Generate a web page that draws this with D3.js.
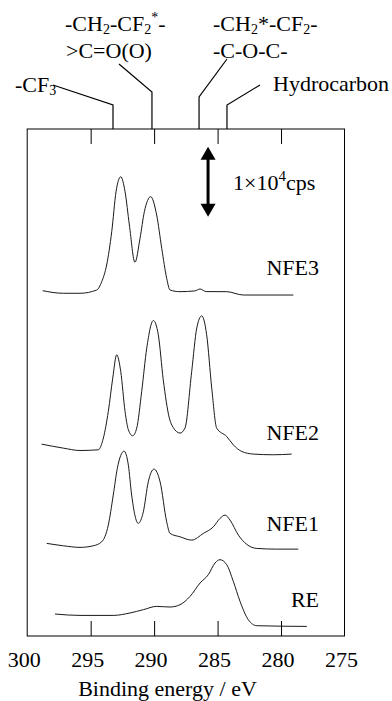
<!DOCTYPE html>
<html>
<head>
<meta charset="utf-8">
<script src="https://cdn.jsdelivr.net/npm/d3@7"></script>
<style>
  html, body { margin: 0; padding: 0; background: #fff; }
  svg { display: block; }
</style>
</head>
<body>
<svg id="chart" width="392" height="701"></svg>
<script>
// ---- Data (binding energy in eV, intensity in 10^3 cps above each trace baseline) ----
const energyTicks = [300, 295, 290, 285, 280, 275];
const seriesNames = ["NFE3", "NFE2", "NFE1", "RE"];
const seriesOffsets = [49.0, 26.6, 12.7, 2.9];   // vertical stacking offsets (10^3 cps)

const nfe3Energy = [298.78, 297.16, 295.84, 294.52, 294.13, 293.74, 293.34, 293.0, 292.63, 292.29, 291.95, 291.51, 291.11, 290.77, 290.27, 289.8, 289.4, 289.01, 288.75, 287.96, 286.8, 286.38, 285.9, 284.28, 282.97, 281.65, 279.03];
const nfe3Counts = [0.33, -0.04, -0.04, 0.43, 1.61, 4.0, 8.76, 14.47, 16.61, 14.47, 9.71, 4.39, 7.81, 11.61, 13.76, 11.14, 6.39, 2.1, 0.43, 0.19, 0.3, 0.57, 0.2, 0.19, -0.29, -0.29, -0.29];

const nfe2Energy = [298.86, 297.16, 295.84, 294.4, 294.0, 293.61, 293.26, 292.95, 292.63, 292.29, 292.03, 291.69, 291.37, 290.98, 290.58, 290.06, 289.67, 289.28, 288.8, 288.5, 287.96, 287.57, 287.04, 286.64, 286.25, 285.86, 285.46, 285.07, 284.28, 283.76, 283.1, 282.18, 280.61, 279.16];
const nfe2Counts = [0.81, 0.24, -0.1, 0.0, 1.67, 5.47, 10.24, 13.57, 11.19, 5.47, 2.86, 2.0, 3.1, 8.33, 14.53, 18.47, 16.43, 10.0, 4.53, 3.2, 2.39, 3.1, 11.19, 17.39, 19.14, 16.43, 8.81, 3.1, 1.9, 0.71, -0.24, -0.61, -0.71, -0.61];

const nfe1Energy = [298.46, 297.16, 295.84, 294.79, 294.13, 293.61, 293.22, 292.9, 292.37, 292.03, 291.77, 291.25, 290.85, 290.46, 290.01, 289.53, 289.01, 288.75, 287.96, 287.04, 286.12, 285.33, 284.81, 284.41, 284.02, 283.36, 282.7, 281.91, 280.34, 278.64];
const nfe1Counts = [0.53, 0.19, -0.04, 0.19, 0.76, 3.14, 7.43, 11.24, 13.71, 11.71, 7.43, 3.39, 5.04, 9.33, 11.14, 9.33, 3.61, 1.96, 1.47, 1.0, 1.96, 2.9, 4.1, 4.57, 3.86, 1.71, 0.39, -0.19, -0.29, -0.29];

const reEnergy = [297.81, 295.84, 293.22, 291.9, 290.85, 289.8, 288.75, 287.96, 287.17, 286.38, 285.73, 285.2, 284.81, 284.28, 283.76, 283.23, 282.58, 281.91, 277.97];
const reCounts = [0.24, 0.04, 0.04, 0.39, 0.86, 1.33, 1.24, 1.57, 2.76, 4.67, 5.86, 7.53, 8.0, 7.29, 4.9, 2.04, -0.57, -1.43, -1.53];

// Peak assignments (energy where leader line meets the frame)
const peakLabels = ["-CF3", "-CH2-CF2*- / >C=O(O)", "-CH2*-CF2- / -C-O-C-", "Hydrocarbon"];
const peakEnergies = [293.24, 290.17, 286.46, 284.26];

// Scale bar: 1x10^4 cps = 10 (10^3 cps)
const scaleBarValue = 10;
const scaleBarTop = 69.9;
const scaleBarEnergy = 285.75;

// ---- Layout ----
const FONT = "'Liberation Serif', 'Times New Roman', Times, 'DejaVu Serif', serif";
const svg = d3.select("#chart").attr("font-family", FONT);
const mLeft = 27.2, mRight = 344.5, mTop = 129, mBottom = 636;

const x = d3.scaleLinear().domain([300, 275]).range([mLeft, mRight]);
const y = d3.scaleLinear().domain([0, (mBottom - mTop) / 7]).range([mBottom, mTop]);

// Frame
svg.append("rect")
  .attr("x", mLeft).attr("y", mTop)
  .attr("width", mRight - mLeft).attr("height", mBottom - mTop)
  .attr("fill", "none").attr("stroke", "#000").attr("stroke-width", 1);

// Inward ticks on bottom and top
const innerTicks = energyTicks.filter(d => d !== 300 && d !== 275);
const bottomAxis = d3.axisTop(x).tickValues(innerTicks).tickSize(15).tickFormat("");
svg.append("g").attr("transform", `translate(0,${mBottom})`).call(bottomAxis)
  .call(g => g.select(".domain").remove())
  .call(g => g.selectAll("line").attr("stroke", "#000"));
const topAxis = d3.axisBottom(x).tickValues(innerTicks).tickSize(15).tickFormat("");
svg.append("g").attr("transform", `translate(0,${mTop})`).call(topAxis)
  .call(g => g.select(".domain").remove())
  .call(g => g.selectAll("line").attr("stroke", "#000"));

svg.append("g").selectAll("text").data(energyTicks).join("text")
  .attr("x", d => x(d) - 3).attr("y", mBottom + 31)
  .attr("text-anchor", "middle").attr("font-size", 22).attr("font-family", FONT)
  .text(d => d);

svg.append("text")
  .attr("x", 167.5).attr("y", 696)
  .attr("text-anchor", "middle").attr("font-size", 22).attr("font-family", FONT)
  .text("Binding energy / eV");

// Spectra
const allSeries = [
  { e: nfe3Energy, c: nfe3Counts },
  { e: nfe2Energy, c: nfe2Counts },
  { e: nfe1Energy, c: nfe1Counts },
  { e: reEnergy, c: reCounts }
];
const line = d3.line().curve(d3.curveMonotoneX);
allSeries.forEach((s, i) => {
  const pts = s.e.map((e, j) => [x(e), y(s.c[j] + seriesOffsets[i])]);
  svg.append("path").attr("d", line(pts))
    .attr("fill", "none").attr("stroke", "#1a1a1a").attr("stroke-width", 1);
});

// Series labels
const labelY = [275, 440, 531, 607];
svg.append("g").selectAll("text").data(seriesNames).join("text")
  .attr("x", 319).attr("y", (d, i) => labelY[i])
  .attr("text-anchor", "end").attr("font-size", 22).attr("font-family", FONT)
  .text(d => d);

// Scale bar (double arrow)
const ax = x(scaleBarEnergy);
const ay1 = y(scaleBarTop), ay2 = y(scaleBarTop - scaleBarValue);
const head = 13, hw = 7.5;
svg.append("line").attr("x1", ax).attr("x2", ax).attr("y1", ay1 + head - 1).attr("y2", ay2 - head + 1)
  .attr("stroke", "#000").attr("stroke-width", 3);
svg.append("path").attr("d", `M${ax},${ay1} L${ax - hw},${ay1 + head} L${ax + hw},${ay1 + head} Z`).attr("fill", "#000");
svg.append("path").attr("d", `M${ax},${ay2} L${ax - hw},${ay2 - head} L${ax + hw},${ay2 - head} Z`).attr("fill", "#000");
const sb = svg.append("text").attr("x", 233).attr("y", 190).attr("font-size", 22).attr("font-family", FONT);
sb.append("tspan").text("1×10");
sb.append("tspan").attr("font-size", 15).attr("dy", -9).text("4");
sb.append("tspan").attr("dy", 9).text("cps");

// Peak leader lines
const leaderStarts = [[53, 85, 105], [119, 64, 92], [227, 59, 97], [260, 85, 105]];
leaderStarts.forEach((p, i) => {
  const xe = x(peakEnergies[i]);
  svg.append("path")
    .attr("d", `M${p[0]},${p[1]} L${xe},${p[2]} L${xe},${mTop}`)
    .attr("fill", "none").attr("stroke", "#000").attr("stroke-width", 1.2);
});

// Peak label texts with sub/superscripts
function richText(xp, yp, parts) {
  const t = svg.append("text").attr("x", xp).attr("y", yp).attr("font-size", 22).attr("font-family", FONT);
  let shift = 0;
  parts.forEach(p => {
    const target = p.sub ? 3 : p.sup ? -9 : 0;
    t.append("tspan").attr("dy", target - shift)
      .attr("font-size", (p.sub || p.sup) ? 14 : 22).text(p.t);
    shift = target;
  });
  return t;
}
richText(15, 92, [{ t: "-CF" }, { t: "3", sub: true }]);
richText(65, 31, [{ t: "-CH" }, { t: "2", sub: true }, { t: "-CF" }, { t: "2", sub: true }, { t: "*", sup: true }, { t: "-" }]);
richText(66, 58, [{ t: ">C=O(O)" }]);
richText(213, 31, [{ t: "-CH" }, { t: "2", sub: true }, { t: "*-CF" }, { t: "2", sub: true }, { t: "-" }]);
richText(213, 58, [{ t: "-C-O-C-" }]);
richText(273, 91, [{ t: "Hydrocarbon" }]);
</script>
</body>
</html>
